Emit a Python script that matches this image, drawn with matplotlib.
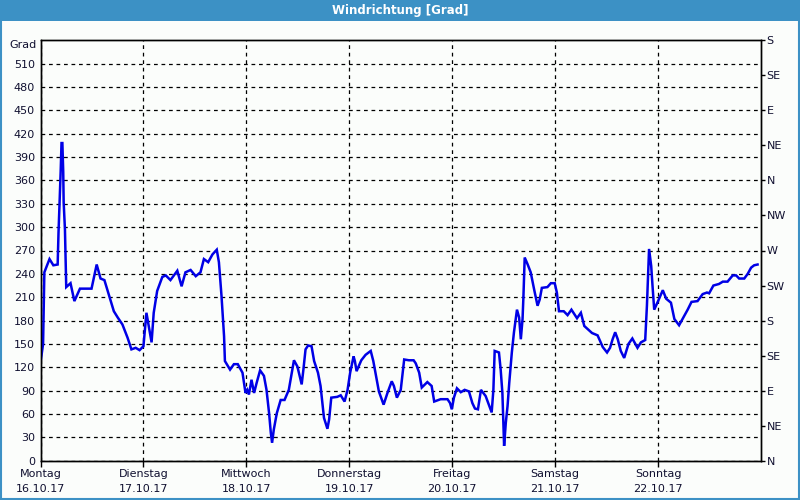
import matplotlib
matplotlib.use("Agg")
import matplotlib.pyplot as plt
from matplotlib.patches import Rectangle

# ---- data -------------------------------------------------------------
hours = [0.1, 0.6, 0.9, 2.1, 3.0, 4.0, 4.2, 4.7, 4.9, 5.1, 5.3, 5.4, 5.7, 6.0,
         7.0, 7.9, 9.2, 11.9, 13.1, 14.0, 14.9, 15.9, 17.1, 18.0, 19.1, 20.3,
         21.2, 22.2, 23.1, 24.0, 24.7, 25.9, 26.4, 27.2, 28.4, 29.2, 30.3,
         31.9, 32.9, 33.8, 35.0, 36.2, 37.3, 38.1, 39.1, 40.1, 41.1, 41.6,
         42.2, 42.8, 43.0, 44.2, 45.1, 46.0, 47.1, 47.8, 48.2, 48.6, 49.2,
         49.8, 50.4, 51.2, 52.1, 52.7, 53.3, 53.7, 54.0, 54.4, 55.1, 56.0,
         56.9, 57.9, 59.1, 59.9, 60.9, 61.3, 61.8, 62.4, 63.2, 63.8, 64.7,
         65.3, 66.1, 66.9, 67.3, 67.8, 69.2, 70.0, 70.9, 71.6, 72.2, 73.0,
         73.3, 73.7, 74.8, 75.8, 77.0, 77.6, 78.4, 78.9, 80.0, 80.9, 81.9,
         82.4, 83.1, 84.0, 84.8, 85.9, 87.0, 87.5, 88.3, 88.9, 90.2, 91.2,
         91.8, 93.3, 94.9, 95.5, 95.9, 96.4, 97.1, 98.0, 98.9, 99.9, 100.7,
         101.3, 102.0, 102.7, 103.8, 104.4, 105.2, 105.6, 105.9, 106.9, 107.3,
         107.7, 108.1, 108.5, 108.9, 109.3, 109.9, 110.4, 111.1, 111.6, 112.0,
         112.4, 112.6, 112.9, 113.6, 114.3, 115.1, 115.9, 116.4, 116.9, 118.2,
         119.0, 119.9, 120.4, 120.9, 122.0, 122.9, 123.8, 125.1, 126.0, 126.8,
         127.6, 128.6, 129.9, 130.3, 131.1, 132.1, 132.8, 133.4, 134.0, 134.6,
         135.3, 136.1, 136.7, 137.1, 138.0, 139.2, 140.0, 141.0, 141.4, 141.9,
         142.4, 142.7, 143.1, 144.0, 145.1, 145.9, 147.0, 147.8, 148.9, 149.7,
         150.9, 151.8, 153.2, 154.4, 155.4, 155.9, 156.9, 158.2, 159.1, 160.2,
         161.4, 162.2, 162.9, 164.1, 164.9, 165.7, 166.4, 167.2]

direction = [130, 150, 242, 259, 251, 252, 293, 371, 408, 408, 371, 332, 297, 223,
             228, 205, 221, 221, 252, 234, 232, 214, 192, 184, 175, 158,
             143, 145, 142, 147, 190, 152, 190, 218, 236, 238, 232,
             244, 224, 242, 245, 237, 242, 259, 255, 265, 271, 255,
             212, 160, 128, 117, 124, 124, 113, 87, 91, 85, 104,
             87, 100, 116, 109, 91, 61, 36, 23, 40, 61, 78,
             78, 91, 129, 121, 98, 117, 143, 148, 147, 128, 113,
             96, 55, 41, 53, 81, 82, 84, 76, 91, 113, 134,
             128, 115, 129, 136, 141, 128, 104, 89, 72, 87, 102,
             96, 81, 91, 130, 129, 129, 125, 113, 94, 101, 96,
             76, 79, 79, 74, 66, 81, 93, 88, 91, 89, 74,
             67, 66, 91, 83, 74, 62, 91, 141, 139, 117,
             87, 19, 49, 70, 100, 139, 165, 194, 184, 156,
             182, 210, 261, 252, 242, 220, 199, 207, 222, 223,
             228, 228, 216, 192, 192, 187, 194, 183, 190, 173,
             169, 164, 161, 156, 146, 139, 145, 156, 165, 156,
             141, 132, 143, 150, 157, 145, 152, 155, 199, 272,
             250, 225, 194, 205, 219, 208, 203, 182, 174, 182,
             194, 204, 205, 214, 216, 215, 225, 227, 230, 230,
             238, 238, 234, 234, 240, 248, 251, 252]

day_names = ["Montag", "Dienstag", "Mittwoch", "Donnerstag", "Freitag",
             "Samstag", "Sonntag"]
day_dates = ["16.10.17", "17.10.17", "18.10.17", "19.10.17", "20.10.17",
             "21.10.17", "22.10.17"]
left_ticks = list(range(0, 540, 30))
compass_ticks = list(range(0, 541, 45))
compass_labels = ["N", "NE", "E", "SE", "S", "SW", "W", "NW", "N", "NE", "E",
                  "SE", "S"]

# ---- figure -----------------------------------------------------------
bg = "#fbfdfb"
frame_blue = "#3c91c5"
txt = "#101030"

fig = plt.figure(figsize=(8, 5), dpi=100, facecolor=bg)

# title bar and frame
fig.patches.append(Rectangle((0, 1 - 20.5 / 500), 1, 20.5 / 500,
                             transform=fig.transFigure, facecolor=frame_blue,
                             edgecolor="none", zorder=0))
fig.patches.append(Rectangle((0.001, 0.002), 0.998, 0.996,
                             transform=fig.transFigure, facecolor="none",
                             edgecolor=frame_blue, linewidth=1.5, zorder=1))
fig.text(0.5, 1 - 10.5 / 500, "Windrichtung [Grad]", color="white",
         ha="center", va="center", fontsize=8.5, fontweight="bold",
         family="DejaVu Sans")

ax = fig.add_axes([40.5 / 800, 39.3 / 500, 720.5 / 800, 420.4 / 500])
ax.set_facecolor(bg)

ax.plot([h / 24 for h in hours], direction, color="#0000e6", linewidth=1.8,
        solid_joinstyle="miter", zorder=3)

ax.set_xlim(0, 7)
ax.set_ylim(0, 540)

# left axis
ax.set_yticks(left_ticks)
ax.set_yticklabels([str(v) for v in left_ticks], fontsize=8, color=txt)
ax.tick_params(axis="y", which="both", length=0, pad=4)
ax.text(-0.005, 1.0, "Grad", transform=ax.transAxes, ha="right", va="top",
        fontsize=8, color=txt)

# bottom axis
ax.set_xticks(range(7))
ax.set_xticklabels([f"{n}\n{d}" for n, d in zip(day_names, day_dates)],
                   fontsize=8, color=txt, linespacing=1.65)
ax.tick_params(axis="x", length=4, width=1, pad=2, direction="out")

# grid
ax.grid(True, color="black", linestyle=(0, (3, 3)), linewidth=0.9)
ax.set_axisbelow(False)

# right axis
ax2 = ax.twinx()
ax2.set_ylim(0, 540)
ax2.set_yticks(compass_ticks)
ax2.set_yticklabels(compass_labels, fontsize=8, color=txt)
ax2.tick_params(axis="y", length=3, width=1, pad=1, direction="out")

for a in (ax, ax2):
    for s in a.spines.values():
        s.set_color("black")
        s.set_linewidth(1)

fig.savefig("out.png", dpi=100, facecolor=bg)
